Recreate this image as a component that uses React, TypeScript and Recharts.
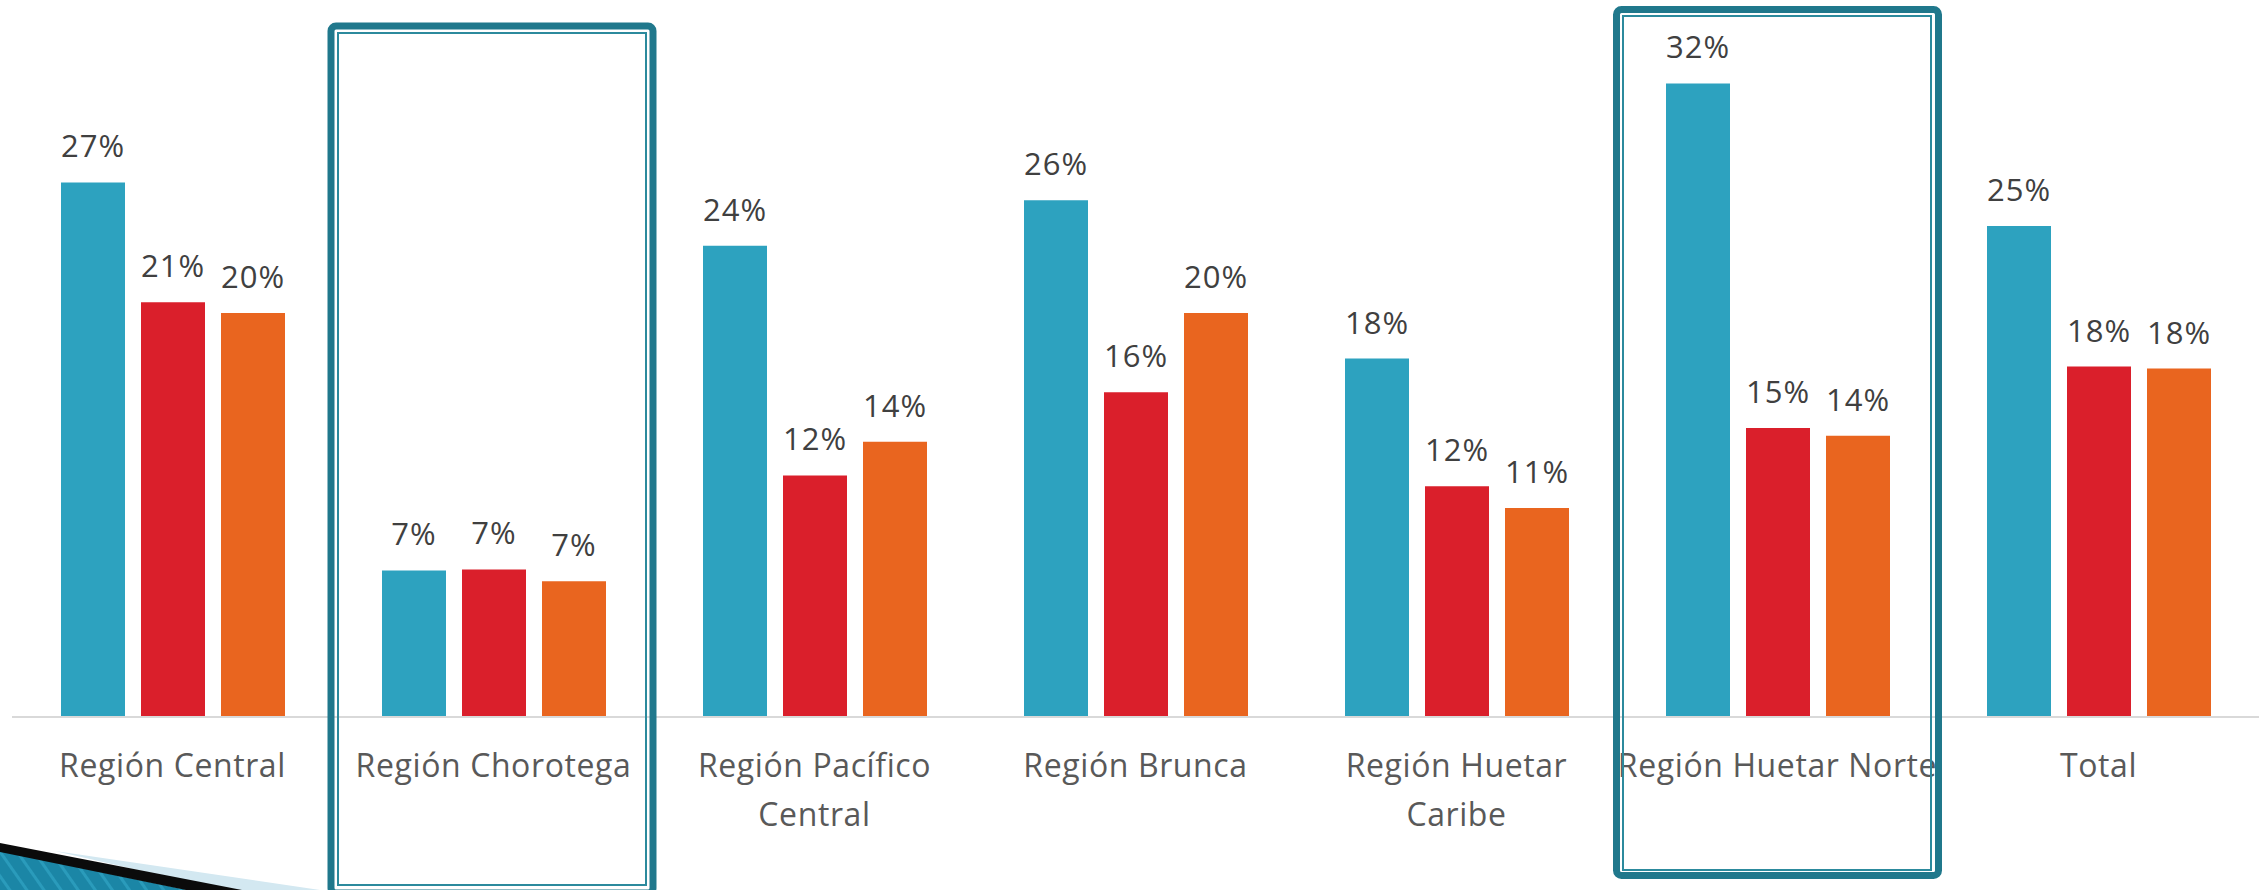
import React from 'react';
import { BarChart, Bar, XAxis, YAxis, LabelList } from 'recharts';

const categories = [
  'Región Central',
  'Región Chorotega',
  'Región Pacífico\nCentral',
  'Región Brunca',
  'Región Huetar\nCaribe',
  'Región Huetar Norte',
  'Total',
];
const serieAzul = [27.0, 7.4, 23.8, 26.1, 18.1, 32.0, 24.8];
const serieRoja = [20.95, 7.45, 12.2, 16.4, 11.65, 14.6, 17.7];
const serieNaranja = [20.4, 6.85, 13.9, 20.4, 10.55, 14.2, 17.6];

const rows = categories.map((region, i) => ({
  region,
  azul: serieAzul[i],
  roja: serieRoja[i],
  naranja: serieNaranja[i],
}));

const FONT = '"Open Sans", "DejaVu Sans", sans-serif';
const pct = (v: any) => `${Math.round(Number(v))}%`;

const RegionTick = (props: any) => {
  const { x, y, payload } = props;
  const lines = String(payload.value).split('\n');
  return (
    <g transform={`translate(${x},${y})`}>
      <text textAnchor="middle" fill="#595959" fontSize={32} fontFamily={FONT} letterSpacing={0.6}>
        {lines.map((l, i) => (
          <tspan key={i} x={0} dy={i === 0 ? 60 : 49}>
            {l}
          </tspan>
        ))}
      </text>
    </g>
  );
};

const labelProps = {
  position: 'top' as const,
  offset: 25,
  formatter: pct,
  fill: '#404040',
  fontSize: 31,
  fontFamily: FONT,
  letterSpacing: 1,
};

// highlight frames + slide decoration
const Overlay = () => (
  <svg width={2262} height={890} style={{ position: 'absolute', left: 0, top: 0, pointerEvents: 'none' }}>
    <defs>
      <pattern id="rayas" width="14" height="14" patternUnits="userSpaceOnUse" patternTransform="rotate(-35)">
        <rect width="14" height="14" fill="#1b86a6" />
        <rect width="3" height="14" fill="#2a9bbb" />
      </pattern>
    </defs>
    <polygon points="55,851 320,890 225,890" fill="#d3e8f1" />
    <polygon points="0,851 188,890 0,890" fill="url(#rayas)" />
    <polygon points="0,843 242,890 186,890 0,852" fill="#0b0b0b" />

    <rect x={331} y={26} width={322} height={867} rx={5} fill="none" stroke="#20788c" strokeWidth={7} />
    <rect x={338} y={33} width={308} height={852} fill="none" stroke="#2c8a9d" strokeWidth={2} />

    <rect x={1616.5} y={9.5} width={322} height={866} rx={5} fill="none" stroke="#20788c" strokeWidth={7} />
    <rect x={1623} y={16} width={308} height={854} fill="none" stroke="#2c8a9d" strokeWidth={2} />
  </svg>
);

export default function App() {
  return (
    <div style={{ position: 'absolute', left: 0, top: 0, width: 2262, height: 890, background: '#fff' }}>
      <BarChart
        width={2262}
        height={890}
        data={rows}
        margin={{ top: 24, right: 3, left: 12, bottom: 0 }}
        barSize={64}
        barGap={16}
      >
        <XAxis
          dataKey="region"
          height={173}
          interval={0}
          tickLine={false}
          tickSize={0}
          tickMargin={0}
          axisLine={{ stroke: '#d9d9d9', strokeWidth: 2 }}
          tick={<RegionTick />}
        />
        <YAxis hide domain={[0, 35]} />
        <Bar dataKey="azul" fill="#2da2bf" isAnimationActive={false}>
          <LabelList dataKey="azul" {...labelProps} />
        </Bar>
        <Bar dataKey="roja" fill="#da1f2b" isAnimationActive={false}>
          <LabelList dataKey="roja" {...labelProps} />
        </Bar>
        <Bar dataKey="naranja" fill="#e9651f" isAnimationActive={false}>
          <LabelList dataKey="naranja" {...labelProps} />
        </Bar>
      </BarChart>
      <Overlay />
    </div>
  );
}
